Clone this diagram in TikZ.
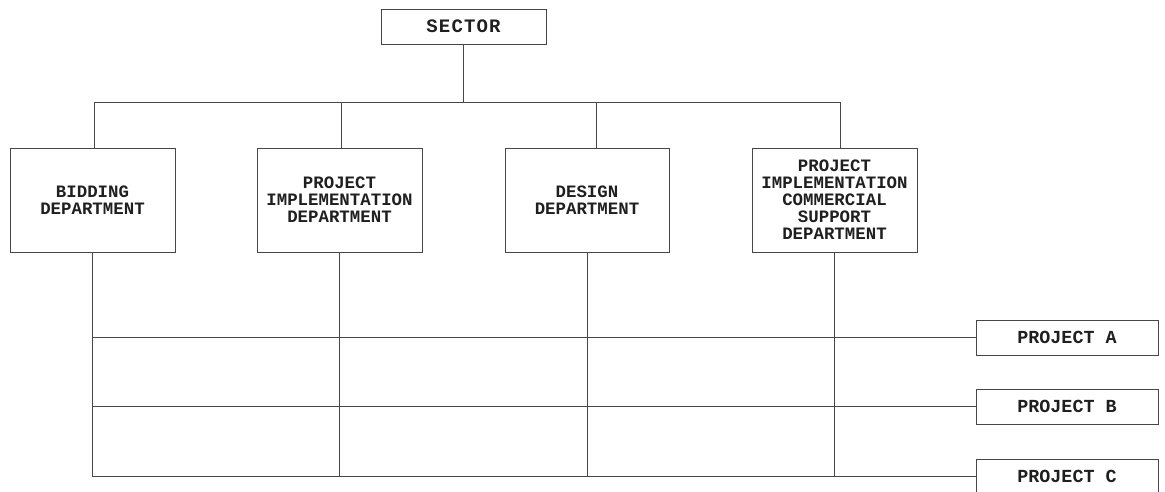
\documentclass[tikz,border=0pt]{standalone}
\usepackage{fontspec}
\newfontfamily\cour{Liberation Mono}
\begin{document}
\begin{tikzpicture}[x=1pt,y=-1pt,
  ln/.style={draw=black!72,line width=0.9pt},
  box/.style={ln,rectangle,inner sep=0pt,align=center,text=black!88,
    font=\cour\bfseries\fontsize{17.4}{17}\selectfont},
  dept/.style={box,minimum width=165pt,minimum height=104pt},
  proj/.style={box,minimum width=182pt,minimum height=35pt,
    font=\cour\bfseries\fontsize{18.4}{18}\selectfont}]
\clip (0,0) rectangle (1165,492);
\useasboundingbox (0,0) rectangle (1165,492);

\node[box,minimum width=165pt,minimum height=35pt,
  font=\cour\bfseries\addfontfeature{LetterSpace=6}\fontsize{19}{19}\selectfont] (sector) at (463.5,26.5) {SECTOR};

\node[dept] (bid) at (92.5,200) {BIDDING\\DEPARTMENT};
\node[dept] (pid) at (339.5,200) {PROJECT\\IMPLEMENTATION\\DEPARTMENT};
\node[dept,minimum width=164pt] (des) at (587,200) {DESIGN\\DEPARTMENT};
\node[dept] (pic) at (834.5,200) {PROJECT\\IMPLEMENTATION\\COMMERCIAL\\SUPPORT\\DEPARTMENT};

\node[proj] (pa) at (1067,337.5) {PROJECT A};
\node[proj] (pb) at (1067,406.5) {PROJECT B};
\node[proj] (pc) at (1067,476.5) {PROJECT C};

\coordinate (t1) at (94,102);
\coordinate (t2) at (341,102);
\coordinate (t3) at (596,102);
\coordinate (t4) at (840,102);

\draw[ln] (t1) -- (t4);
\draw[ln] (sector.south) -- (sector.south |- t1);
\draw[ln] (t1) -- (bid.north -| t1);
\draw[ln] (t2) -- (pid.north -| t2);
\draw[ln] (t3) -- (des.north -| t3);
\draw[ln] (t4) -- (pic.north -| t4);

\draw[ln] (bid.south) |- (pc.west);
\draw[ln] (pid.south) -- (pid.south |- pc.west);
\draw[ln] (des.south) -- (des.south |- pc.west);
\draw[ln] (pic.south) -- (pic.south |- pc.west);
\draw[ln] (bid.south |- pa.west) -- (pa.west);
\draw[ln] (bid.south |- pb.west) -- (pb.west);
\end{tikzpicture}
\end{document}
